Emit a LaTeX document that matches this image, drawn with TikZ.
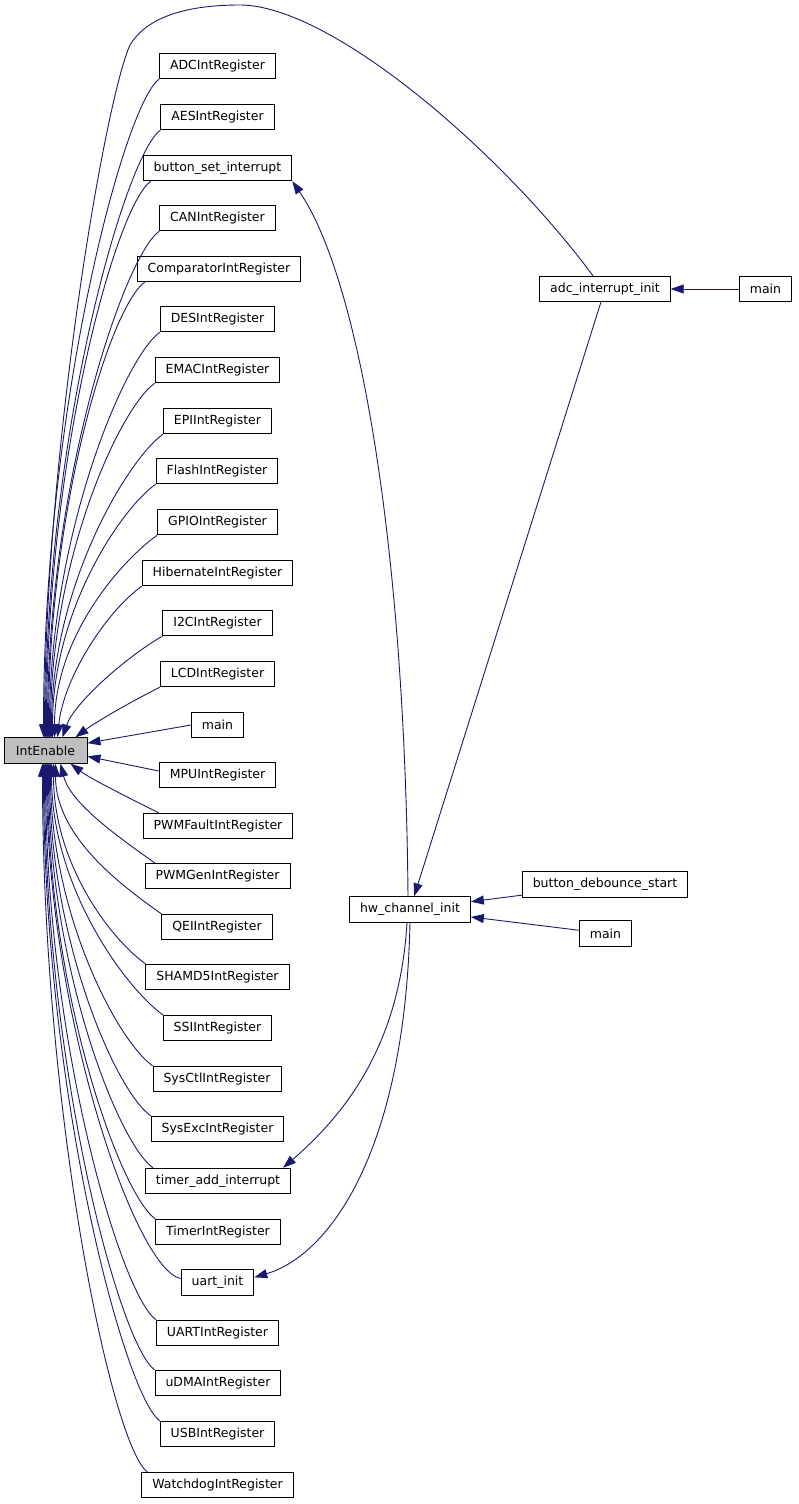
\documentclass[tikz,border=0pt]{standalone}
\usepackage{fontspec}
\setmainfont{DejaVu Sans}
\usetikzlibrary{arrows.meta}
\definecolor{edgeblue}{HTML}{191970}
\definecolor{focusgray}{HTML}{BFBFBF}

\begin{document}
\begin{tikzpicture}[
    x=1pt, y=-1pt,
    fn/.style={rectangle, draw=black, line width=0.9pt, fill=white, inner xsep=10.5pt, inner ysep=0pt, minimum height=25.5pt, font=\fontsize{12.5}{14}\selectfont},
    % caller -> callee, tip sits on the callee
    calls/.style={draw=edgeblue, line width=0.9pt, -{Triangle[length=13pt, width=9pt]}}
  ]
    \useasboundingbox (0,0) rectangle (799,1504);

    %--- the function itself
    \node[fn, fill=focusgray, minimum width=83pt] (IntEnable) at (45.5,750.5) {IntEnable};

    %--- direct callers, one column
    \node[fn] (ADC)       at (217.5,66)   {ADCIntRegister};
    \node[fn] (AES)       at (217.5,117)  {AESIntRegister};
    \node[fn] (bsi)       at (217.5,168)  {button\_set\_interrupt};
    \node[fn] (CAN)       at (217.5,218)  {CANIntRegister};
    \node[fn] (Comp)      at (219,269)    {ComparatorIntRegister};
    \node[fn] (DES)       at (217.5,319)  {DESIntRegister};
    \node[fn] (EMAC)      at (217.5,370)  {EMACIntRegister};
    \node[fn] (EPI)       at (217.5,421)  {EPIIntRegister};
    \node[fn] (Flash)     at (217,471)    {FlashIntRegister};
    \node[fn] (GPIO)      at (217.5,522)  {GPIOIntRegister};
    \node[fn] (Hib)       at (217.5,573)  {HibernateIntRegister};
    \node[fn] (I2C)       at (217.5,623)  {I2CIntRegister};
    \node[fn] (LCD)       at (217.5,674)  {LCDIntRegister};
    \node[fn] (mainA)     at (217.5,725)  {main};
    \node[fn] (MPU)       at (217.5,775)  {MPUIntRegister};
    \node[fn] (PWMFault)  at (218,826)    {PWMFaultIntRegister};
    \node[fn] (PWMGen)    at (217.5,876)  {PWMGenIntRegister};
    \node[fn] (QEI)       at (217,927)    {QEIIntRegister};
    \node[fn] (SHA)       at (217.5,977)  {SHAMD5IntRegister};
    \node[fn] (SSI)       at (217.5,1028) {SSIIntRegister};
    \node[fn] (SysCtl)    at (217,1079)   {SysCtlIntRegister};
    \node[fn] (SysExc)    at (217.5,1129) {SysExcIntRegister};
    \node[fn] (tai)       at (218,1181)   {timer\_add\_interrupt};
    \node[fn] (Timer)     at (218,1232)   {TimerIntRegister};
    \node[fn] (uart)      at (217.5,1282.5) {uart\_init};
    \node[fn] (UART)      at (217.5,1333) {UARTIntRegister};
    \node[fn] (uDMA)      at (218,1383)   {uDMAIntRegister};
    \node[fn] (USB)       at (217.5,1434) {USBIntRegister};
    \node[fn] (Watchdog)  at (217.5,1485) {WatchdogIntRegister};

    %--- second and third level
    \node[fn] (hw)    at (410,909.5)   {hw\_channel\_init};
    \node[fn] (adc)   at (605,289)     {adc\_interrupt\_init};
    \node[fn] (mainB) at (765.5,289)   {main};
    \node[fn] (bds)   at (605,884.5)   {button\_debounce\_start};
    \node[fn] (mainC) at (605.5,933.5) {main};

    %--- edges into IntEnable from above
    \draw[calls] (ADC.south west)   .. controls +(-35,25) and +(0,-330) .. ([xshift=-2pt]IntEnable.north);
    \draw[calls] (AES.south west)   .. controls +(-35,25) and +(0,-304) .. (IntEnable.north);
    \draw[calls] ([xshift=8pt]bsi.south west) .. controls +(-35,25) and +(0,-279) .. ([xshift=1pt]IntEnable.north);
    \draw[calls] (CAN.south west)   .. controls +(-35,25) and +(0,-254) .. ([xshift=2pt]IntEnable.north);
    \draw[calls] ([xshift=8pt]Comp.south west) .. controls +(-35,25) and +(0,-228) .. ([xshift=3pt]IntEnable.north);
    \draw[calls] (DES.south west)   .. controls +(-35,25) and +(0,-203) .. ([xshift=4pt]IntEnable.north);
    \draw[calls] (EMAC.south west)  .. controls +(-35,25) and +(0,-178) .. ([xshift=5pt]IntEnable.north);
    \draw[calls] (EPI.south west)   .. controls +(-35,25) and +(0,-152) .. ([xshift=6pt]IntEnable.north);
    \draw[calls] (Flash.south west) .. controls +(-35,25) and +(0,-127) .. ([xshift=7pt]IntEnable.north);
    \draw[calls] (GPIO.south west)  .. controls +(-35,25) and +(0,-102) .. ([xshift=9pt]IntEnable.north);
    \draw[calls] (Hib.south west)   .. controls +(-35,25) and +(6,-60)  .. ([xshift=12pt]IntEnable.north);
    \draw[calls] (I2C.south west)   .. controls +(-35,20) and +(12,-35) .. ([xshift=17pt]IntEnable.north);
    \draw[calls] (LCD.south west)   .. controls +(-30,15) and +(20,-15) .. ([xshift=30pt]IntEnable.north);

    %--- edges into IntEnable from the side
    \draw[calls] (mainA.west) -- (IntEnable.10);
    \draw[calls] ([yshift=4pt]MPU.west) -- (IntEnable.-8);

    %--- edges into IntEnable from below
    \draw[calls] ([xshift=16pt]PWMFault.north west) .. controls +(-30,-15) and +(20,15) .. ([xshift=25pt]IntEnable.south);
    \draw[calls] ([xshift=10pt]PWMGen.north west)   .. controls +(-35,-25) and +(10,40) .. ([xshift=15pt]IntEnable.south);
    \draw[calls] (QEI.north west)      .. controls +(-35,-25) and +(0,75)  .. ([xshift=10pt]IntEnable.south);
    \draw[calls] (SHA.north west)      .. controls +(-35,-25) and +(0,100) .. ([xshift=8pt]IntEnable.south);
    \draw[calls] (SSI.north west)      .. controls +(-35,-25) and +(0,126) .. ([xshift=6pt]IntEnable.south);
    \draw[calls] (SysCtl.north west)   .. controls +(-35,-25) and +(0,151) .. ([xshift=5pt]IntEnable.south);
    \draw[calls] (SysExc.north west)   .. controls +(-35,-25) and +(0,176) .. ([xshift=4pt]IntEnable.south);
    \draw[calls] ([xshift=8pt]tai.north west) .. controls +(-35,-25) and +(0,202) .. ([xshift=3pt]IntEnable.south);
    \draw[calls] (Timer.north west)    .. controls +(-35,-25) and +(0,228) .. ([xshift=2pt]IntEnable.south);
    \draw[calls] ([yshift=4pt]uart.west) .. controls +(-45,-8) and +(0,250) .. ([xshift=1pt]IntEnable.south);
    \draw[calls] (UART.north west)     .. controls +(-35,-25) and +(0,278) .. (IntEnable.south);
    \draw[calls] (uDMA.north west)     .. controls +(-35,-25) and +(0,303) .. ([xshift=-1pt]IntEnable.south);
    \draw[calls] (USB.north west)      .. controls +(-35,-25) and +(0,329) .. ([xshift=-2pt]IntEnable.south);
    \draw[calls] ([xshift=6pt]Watchdog.north west) .. controls +(-35,-25) and +(0,354) .. ([xshift=-3pt]IntEnable.south);

    %--- the long way round from adc_interrupt_init
    \draw[calls] ([xshift=-12pt]adc.north) .. controls (500,150) and (330,5) .. (240,5)
      .. controls (180,5) and (145,20) .. (130,45)
      .. controls (105,100) and (45,450) .. ([xshift=-1pt]IntEnable.north);

    %--- hw_channel_init and its callers
    \draw[calls] (mainB) -- (adc);
    \draw[calls] (adc) -- (hw);
    \draw[calls] (bds) -- (hw);
    \draw[calls] (mainC) -- (hw);
    \draw[calls] ([xshift=-2pt]hw.north) .. controls (405,550) and (360,280) .. (bsi.-10.5);
    \draw[calls] ([xshift=-3pt]hw.south) .. controls (400,1040) and (350,1110) .. ([xshift=-8pt]tai.north east);
    \draw[calls] (hw.south) .. controls (405,1150) and (330,1255) .. (uart.8);
\end{tikzpicture}
\end{document}
